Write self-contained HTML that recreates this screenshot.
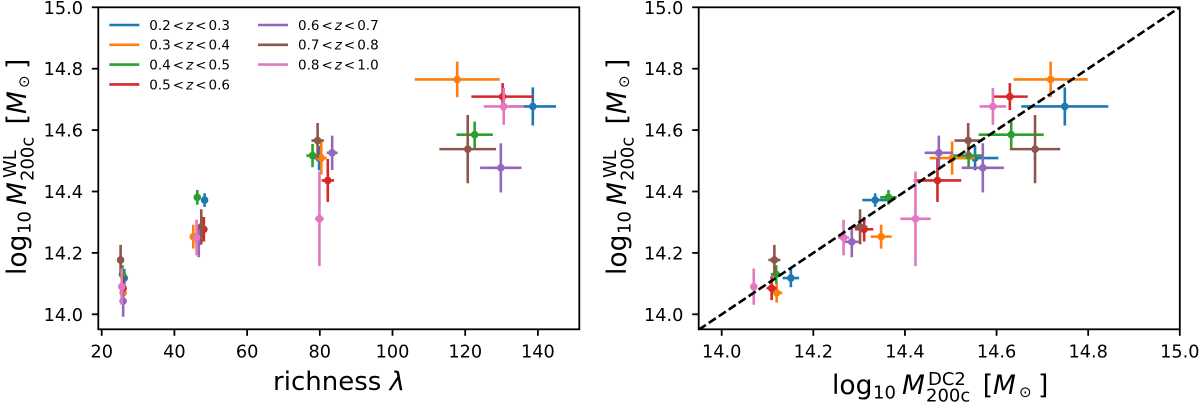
<!DOCTYPE html>
<html lang="en">
<head>
<meta charset="utf-8">
<title>Weak lensing mass vs richness and DC2 mass</title>
<style>
html,body{margin:0;padding:0;background:#fff;}
svg{display:block;font-family:"DejaVu Sans","Liberation Sans",sans-serif;fill:#000;}
</style>
</head>
<body>
<svg id="chart" xmlns="http://www.w3.org/2000/svg" width="1200" height="403" viewBox="0 0 1200 403">
  <defs>
    <clipPath id="clip-left"><rect x="98.3" y="7.3" width="481" height="322"/></clipPath>
    <clipPath id="clip-right"><rect x="698.7" y="7.3" width="481.1" height="322"/></clipPath>
  </defs>
  <rect width="1200" height="403" fill="#fff"/>
  <g id="left-panel"></g>
  <g id="right-panel"></g>

  <text x="339" y="390" font-size="26" text-anchor="middle">richness <tspan font-style="italic">λ</tspan></text>

  <g transform="translate(26,168) rotate(-90)">
    <text x="-107" y="0" font-size="26.5">log</text>
    <text x="-66" y="4.5" font-size="18">10</text>
    <text x="-37" y="0" font-size="26.5" font-style="italic">M</text>
    <text x="-10" y="-10" font-size="18">WL</text>
    <text x="-13" y="7.5" font-size="18">200c</text>
    <text x="43.7" y="0" font-size="26.5">[</text>
    <text x="54" y="0" font-size="26.5" font-style="italic">M</text>
    <text x="80" y="3" font-size="15">⊙</text>
    <text x="99" y="0" font-size="26.5">]</text>
  </g>

  <g transform="translate(626,168) rotate(-90)">
    <text x="-107" y="0" font-size="26.5">log</text>
    <text x="-66" y="4.5" font-size="18">10</text>
    <text x="-37" y="0" font-size="26.5" font-style="italic">M</text>
    <text x="-10" y="-10" font-size="18">WL</text>
    <text x="-13" y="7.5" font-size="18">200c</text>
    <text x="43.7" y="0" font-size="26.5">[</text>
    <text x="54" y="0" font-size="26.5" font-style="italic">M</text>
    <text x="80" y="3" font-size="15">⊙</text>
    <text x="99" y="0" font-size="26.5">]</text>
  </g>

  <g transform="translate(939,394)">
    <text x="-107" y="0" font-size="26.5">log</text>
    <text x="-66" y="4.5" font-size="18">10</text>
    <text x="-37" y="0" font-size="26.5" font-style="italic">M</text>
    <text x="-11" y="-9" font-size="18">DC2</text>
    <text x="-13" y="7.5" font-size="18">200c</text>
    <text x="43.7" y="0" font-size="26.5">[</text>
    <text x="54" y="0" font-size="26.5" font-style="italic">M</text>
    <text x="80" y="3" font-size="15">⊙</text>
    <text x="99" y="0" font-size="26.5">]</text>
  </g>
</svg>
<script>
/* ---------- chart data: one row per redshift bin, one column per richness bin ---------- */
const zBinLow  = ["0.2", "0.3", "0.4", "0.5", "0.6", "0.7", "0.8"];
const zBinHigh = ["0.3", "0.4", "0.5", "0.6", "0.7", "0.8", "1.0"];

const richness = [
  [26.2, 48.3, 79.8, 138.6],
  [25.9, 45.2, 80.4, 117.8],
  [25.7, 46.3, 78.0, 122.6],
  [25.9, 48.1, 82.2, 130.3],
  [25.9, 46.7, 83.4, 129.8],
  [25.2, 47.4, 79.4, 120.7],
  [25.5, 46.1, 79.9, 130.6]
];
const richnessErr = [
  [0.3, 0.5, 1.5, 6.4],
  [0.3, 0.5, 1.5, 11.7],
  [0.3, 0.5, 1.7, 5.0],
  [0.3, 0.5, 1.7, 8.6],
  [0.3, 0.5, 1.5, 5.7],
  [0.3, 0.5, 1.7, 7.8],
  [0.3, 0.5, 1.2, 5.5]
];
const massDC2 = [
  [14.151, 14.335, 14.553, 14.749],
  [14.120, 14.348, 14.503, 14.718],
  [14.119, 14.364, 14.539, 14.632],
  [14.109, 14.311, 14.471, 14.629],
  [13.900, 14.284, 14.474, 14.570],
  [14.115, 14.302, 14.538, 14.684],
  [14.070, 14.266, 14.423, 14.592]
];
const massDC2Err = [
  [0.018, 0.028, 0.051, 0.095],
  [0.012, 0.023, 0.049, 0.081],
  [0.012, 0.018, 0.033, 0.071],
  [0.011, 0.020, 0.052, 0.039],
  [0.010, 0.015, 0.031, 0.046],
  [0.013, 0.016, 0.030, 0.055],
  [0.007, 0.012, 0.033, 0.029]
];
const massWL = [
  [14.118, 14.372, 14.509, 14.677],
  [14.070, 14.253, 14.509, 14.765],
  [14.130, 14.381, 14.517, 14.585],
  [14.085, 14.277, 14.436, 14.709],
  [14.043, 14.236, 14.526, 14.477],
  [14.177, 14.285, 14.566, 14.538],
  [14.090, 14.250, 14.311, 14.677]
];
const massWLErr = [
  [0.030, 0.022, 0.040, 0.062],
  [0.032, 0.039, 0.054, 0.058],
  [0.030, 0.024, 0.038, 0.043],
  [0.039, 0.040, 0.070, 0.044],
  [0.051, 0.050, 0.056, 0.080],
  [0.049, 0.057, 0.057, 0.111],
  [0.059, 0.058, 0.154, 0.060]
];
const richnessTicks = [20, 40, 60, 80, 100, 120, 140];
const massTicks = [14.0, 14.2, 14.4, 14.6, 14.8, 15.0];
const refLine = [13.95, 15.0];

/* ---------- styling ---------- */
const palette = ["#1f77b4", "#ff7f0e", "#2ca02c", "#d62728", "#9467bd", "#8c564b", "#e377c2"];
const NS = "http://www.w3.org/2000/svg";

/* ---------- axis functions ---------- */
function xRichness(v) { return 101.7 + (v - 20) * 3.635; }
function xMass(v) { return 721.7 + (v - 14) * 458.1; }
function yMass(v) { return 314.3 - (v - 14) * 307; }

function make(parent, tag, attrs, text) {
  const el = document.createElementNS(NS, tag);
  for (const k in attrs) el.setAttribute(k, attrs[k]);
  if (text !== undefined) el.textContent = text;
  parent.appendChild(el);
  return el;
}

function drawAxes(panel, left, right, top, bottom, xFn, xTicks, xFmt, labelRight, prefix) {
  const frame = make(panel, "rect", {x: left, y: top, width: right - left, height: bottom - top, fill: "none", stroke: "#000", "stroke-width": 1.8});
  
  
  xTicks.forEach(function (t) {
    const px = xFn(t);
    const tick = make(panel, "line", {x1: px, x2: px, y1: bottom, y2: bottom + 6.5, stroke: "#000", "stroke-width": 1.8});
    
    
    const label = make(panel, "text", {x: px, y: 357.7, "font-size": 17.7, "text-anchor": "middle"}, xFmt(t));
    
    
  });
  massTicks.forEach(function (t) {
    const py = yMass(t);
    const tick = make(panel, "line", {x1: left - 6.5, x2: left, y1: py, y2: py, stroke: "#000", "stroke-width": 1.8});
    
    
    const label = make(panel, "text", {x: labelRight, y: py + 6.5, "font-size": 17.7, "text-anchor": "end"}, t.toFixed(1));
    
    
  });
}

function drawSeries(panel, xFn, xVals, xErrs, clipId, prefix) {
  const clipped = make(panel, "g", {"clip-path": "url(#" + clipId + ")"});
  
  
  palette.forEach(function (color, s) {
    const group = make(clipped, "g", {stroke: color, fill: color, "stroke-width": 2.6});
    
    
    xVals[s].forEach(function (xv, b) {
      const yv = massWL[s][b];
      const cx = xFn(xv), cy = yMass(yv);
      const hBar = make(group, "line", {x1: xFn(xv - xErrs[s][b]), x2: xFn(xv + xErrs[s][b]), y1: cy, y2: cy});
      
      
      const vBar = make(group, "line", {x1: cx, x2: cx, y1: yMass(yv - massWLErr[s][b]), y2: yMass(yv + massWLErr[s][b])});
      
      
      const dot = make(group, "circle", {cx: cx, cy: cy, r: 3.8, stroke: "none"});
      
      
    });
  });
  return clipped;
}

/* ---------- left panel ---------- */
const leftPanel = document.getElementById("left-panel");
drawSeries(leftPanel, xRichness, richness, richnessErr, "clip-left", "richness");
drawAxes(leftPanel, 98.3, 579.3, 7.3, 329.3, xRichness, richnessTicks, function (t) { return String(t); }, 83, "richness");

/* ---------- right panel ---------- */
const rightPanel = document.getElementById("right-panel");
const rightPlot = drawSeries(rightPanel, xMass, massDC2, massDC2Err, "clip-right", "dc2");
const oneToOne = make(rightPlot, "line", {
  x1: xMass(refLine[0]), y1: yMass(refLine[0]),
  x2: xMass(refLine[1]), y2: yMass(refLine[1]),
  stroke: "#000", "stroke-width": 2.6, "stroke-dasharray": "8.5 3.5"
});


drawAxes(rightPanel, 698.7, 1179.8, 7.3, 329.3, xMass, massTicks, function (t) { return t.toFixed(1); }, 683.4, "dc2");

/* ---------- legend ---------- */
const legend = make(leftPanel, "g", {"font-size": 13.5});


palette.forEach(function (color, s) {
  const col = s < 4 ? 0 : 1;
  const row = s < 4 ? s : s - 4;
  const lx = col === 0 ? 109.3 : 258;
  const ly = 25 + row * 19.8;
  const entry = make(legend, "g", {});
  
  
  const swatch = make(entry, "line", {x1: lx, x2: lx + 30, y1: ly, y2: ly, stroke: color, "stroke-width": 2.6});
  
  
  const label = make(entry, "text", {x: lx + 40, y: ly + 4.9});
  
  
  make(label, "tspan", {}, zBinLow[s]);
  make(label, "tspan", {dx: 2}, "<");
  make(label, "tspan", {dx: 2, "font-style": "italic"}, "z");
  make(label, "tspan", {dx: 2}, "<");
  make(label, "tspan", {dx: 2}, zBinHigh[s]);
});
</script>
</body>
</html>
